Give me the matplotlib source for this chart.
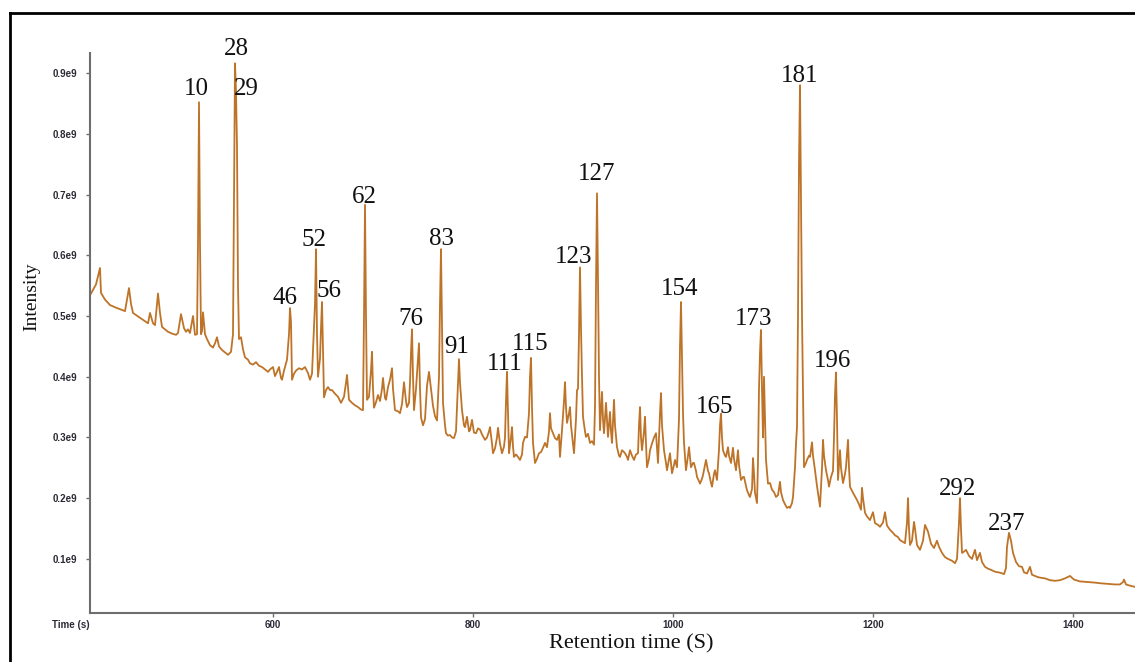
"""
色谱图 - 保留时间与强度
"""

import matplotlib
matplotlib.use("Agg")
import matplotlib.pyplot as plt
from matplotlib.lines import Line2D

# 保留时间 (s)
retention_time = [
    417, 423, 427, 428, 432, 437, 444, 449, 452, 456, 458, 460, 467, 473, 475, 477, 480, 482,
    485, 487, 489, 492, 495, 499, 503, 505, 508, 511, 513, 515, 517, 520, 522, 524, 525, 526,
    527, 528, 529, 530, 532, 534, 537, 540, 542, 544, 546, 549, 552, 555, 558, 560, 561, 562,
    563, 564, 565, 566, 568, 570, 572, 575, 577, 580, 583, 586, 589, 592, 595, 597, 600, 602,
    604, 606, 608, 609, 611, 614, 616, 617, 618, 619, 621, 623,
    626, 629, 632, 635, 637, 639, 640, 642, 643, 644, 645, 647, 648, 649, 650, 651, 653, 655,
    657, 659, 662, 665, 668, 671, 673, 674, 676, 679, 682, 685, 688, 690, 691, 692, 693, 694,
    696, 698, 699, 700, 701, 703, 705, 707, 709, 710, 712, 713, 715, 717, 719, 720, 722, 725,
    727, 729, 731, 733, 734, 736, 737, 738, 739, 740, 741, 743, 745, 746, 747, 748, 750, 752,
    754, 756, 758, 760, 762, 764, 766, 767, 768, 769, 770, 772, 773, 775, 777, 779, 781, 783,
    785, 786, 787, 789, 791, 792, 794, 796, 797, 799, 801, 803, 805, 807, 809, 812, 814, 816,
    817, 819, 820, 822, 824, 825, 827, 829, 831, 832, 833, 834, 835, 836, 838, 839, 840, 841,
    843, 845, 847, 849, 850, 852,
    854, 856, 857, 858, 859, 860, 862, 864, 866, 868, 870, 872, 874, 876, 877, 878, 880, 882,
    884, 886, 887, 889, 891, 892, 893, 894, 896, 897, 898, 900, 901, 903, 904, 905, 906, 907,
    908, 909, 910, 912, 913, 915, 917, 919, 921, 922, 923, 924, 925, 926, 927, 929, 930, 931,
    933, 934, 935, 937, 938, 939, 941, 942, 944, 946, 947, 949, 951, 952, 954, 955, 957, 959,
    961, 963, 965, 966, 967, 968, 969, 971, 972, 973, 974, 976, 977, 979, 981, 983, 985, 987,
    988, 989, 991, 993, 994, 996, 997, 999, 1001, 1002, 1004, 1006, 1007, 1008, 1009, 1010,
    1011, 1013, 1015, 1016, 1018, 1020, 1021, 1023, 1024, 1026, 1027, 1029, 1030, 1032, 1033,
    1035, 1036, 1038, 1039, 1041, 1042, 1044, 1046, 1047, 1048, 1049, 1050, 1052, 1053, 1055,
    1056, 1058, 1060, 1061, 1063, 1065, 1066, 1068, 1070, 1071, 1073, 1074, 1076, 1077, 1079,
    1080, 1081, 1082, 1083, 1084, 1085, 1086, 1087, 1088, 1089, 1090, 1091, 1092, 1093,
    1095, 1097, 1099, 1101, 1103, 1105, 1107, 1108, 1110, 1112, 1114, 1116, 1117, 1119, 1120,
    1122, 1123, 1124, 1125, 1126, 1127, 1128, 1129, 1130, 1131, 1133, 1134, 1136, 1137, 1139,
    1140, 1142, 1144, 1145, 1147, 1149, 1150, 1151, 1153, 1155, 1156, 1158, 1160, 1161, 1162,
    1163, 1164, 1165, 1167, 1168, 1170, 1172, 1173, 1175, 1176, 1177, 1179, 1180, 1182, 1184,
    1186, 1188, 1189, 1190, 1192, 1194, 1197, 1200, 1202, 1205, 1207, 1210, 1212, 1214, 1217,
    1220, 1222, 1225, 1227, 1230, 1232, 1234, 1235, 1236, 1237, 1239, 1241, 1242, 1244, 1247,
    1250, 1252, 1255, 1258, 1261, 1264, 1266, 1269, 1272, 1275, 1279, 1282, 1284, 1286, 1287,
    1288, 1289, 1291, 1293, 1296, 1299, 1302, 1304, 1307, 1309, 1312, 1315, 1318, 1322, 1325,
    1328, 1331, 1333, 1334, 1336, 1338, 1340, 1343, 1346, 1349, 1351, 1354, 1357, 1359, 1362,
    1365, 1368, 1372, 1377, 1382, 1387, 1392, 1397, 1401, 1407, 1415, 1422, 1427, 1435, 1442,
    1447, 1450, 1451, 1453, 1457, 1462,
]

# 强度 (单位 1e9)
intensity = [
    0.534, 0.552, 0.579, 0.538, 0.527, 0.518, 0.513, 0.510, 0.508, 0.546, 0.520, 0.505, 0.497,
    0.490, 0.488, 0.505, 0.488, 0.485, 0.537, 0.505, 0.482, 0.478, 0.474, 0.471, 0.469, 0.472,
    0.503, 0.480, 0.474, 0.478, 0.472, 0.500, 0.469, 0.470, 0.620, 0.852, 0.620, 0.470, 0.475,
    0.506, 0.470, 0.462, 0.452, 0.448, 0.455, 0.465, 0.450, 0.444, 0.440, 0.436, 0.441, 0.470,
    0.700, 0.916, 0.870, 0.780, 0.550, 0.462, 0.465, 0.445, 0.432, 0.428, 0.422, 0.420, 0.424,
    0.418, 0.416, 0.412, 0.408, 0.412, 0.416, 0.401, 0.408, 0.416, 0.398, 0.395, 0.410, 0.428,
    0.470, 0.513, 0.490, 0.395, 0.405, 0.410,
    0.414, 0.412, 0.416, 0.406, 0.395, 0.405, 0.444, 0.520, 0.610, 0.470, 0.400, 0.430, 0.480,
    0.523, 0.440, 0.366, 0.378, 0.383, 0.378, 0.378, 0.372, 0.367, 0.357, 0.367, 0.390, 0.403,
    0.362, 0.357, 0.353, 0.350, 0.346, 0.345, 0.500, 0.683, 0.500, 0.362, 0.367, 0.410, 0.441,
    0.380, 0.349, 0.358, 0.370, 0.360, 0.380, 0.398, 0.365, 0.362, 0.383, 0.395, 0.414, 0.380,
    0.345, 0.343, 0.340, 0.355, 0.391, 0.360, 0.350, 0.357, 0.390, 0.440, 0.478, 0.400, 0.345,
    0.380, 0.430, 0.455, 0.380, 0.333, 0.320, 0.330, 0.385, 0.408, 0.380, 0.352, 0.335, 0.328,
    0.400, 0.520, 0.610, 0.480, 0.357, 0.320, 0.307, 0.303, 0.304, 0.300, 0.299, 0.310, 0.390,
    0.429, 0.390, 0.345, 0.320, 0.317, 0.334, 0.310, 0.312, 0.329, 0.308, 0.307, 0.315, 0.313,
    0.305, 0.296, 0.300, 0.310, 0.317, 0.290, 0.274, 0.282, 0.300, 0.316, 0.290, 0.274, 0.285,
    0.300, 0.360, 0.408, 0.340, 0.274, 0.300, 0.317, 0.285, 0.268, 0.272, 0.268, 0.263, 0.272,
    0.291, 0.301,
    0.300, 0.340, 0.400, 0.431, 0.350, 0.291, 0.258, 0.265, 0.274, 0.276, 0.283, 0.291, 0.284,
    0.310, 0.340, 0.315, 0.307, 0.299, 0.296, 0.305, 0.268, 0.312, 0.360, 0.391, 0.350, 0.324,
    0.340, 0.350, 0.320, 0.290, 0.274, 0.330, 0.378, 0.380, 0.470, 0.580, 0.480, 0.400, 0.334,
    0.310, 0.301, 0.306, 0.291, 0.294, 0.288, 0.350, 0.550, 0.702, 0.560, 0.400, 0.312, 0.375,
    0.330, 0.307, 0.357, 0.330, 0.301, 0.342, 0.310, 0.291, 0.362, 0.320, 0.284, 0.270, 0.268,
    0.279, 0.276, 0.274, 0.268, 0.263, 0.279, 0.270, 0.263, 0.272, 0.274, 0.320, 0.350, 0.300,
    0.279, 0.310, 0.334, 0.290, 0.251, 0.265, 0.279, 0.290, 0.300, 0.307, 0.258, 0.340, 0.373,
    0.320, 0.279, 0.258, 0.246, 0.265, 0.274, 0.241, 0.255, 0.263, 0.251, 0.330, 0.450, 0.523,
    0.430, 0.340, 0.291, 0.246, 0.270, 0.284, 0.251, 0.258, 0.258, 0.245, 0.235, 0.228, 0.224,
    0.232, 0.238, 0.255, 0.263, 0.245, 0.241, 0.225, 0.219, 0.240, 0.246, 0.230, 0.280, 0.320,
    0.339, 0.300, 0.279, 0.270, 0.268, 0.284, 0.270, 0.258, 0.283, 0.265, 0.246, 0.279, 0.255,
    0.230, 0.235, 0.235, 0.220, 0.213, 0.205, 0.202, 0.215, 0.266, 0.240, 0.209, 0.200, 0.192,
    0.260, 0.380, 0.440, 0.477, 0.380, 0.300, 0.400, 0.330, 0.263,
    0.224, 0.225, 0.214, 0.210, 0.202, 0.205, 0.227, 0.210, 0.197, 0.190, 0.184, 0.186, 0.184,
    0.192, 0.202, 0.251, 0.290, 0.317, 0.500, 0.750, 0.880, 0.700, 0.500, 0.373, 0.251, 0.258,
    0.263, 0.270, 0.268, 0.292, 0.270, 0.246, 0.220, 0.209, 0.186, 0.250, 0.296, 0.270, 0.246,
    0.230, 0.219, 0.235, 0.245, 0.300, 0.370, 0.407, 0.330, 0.230, 0.279, 0.250, 0.225, 0.240,
    0.251, 0.296, 0.250, 0.219, 0.212, 0.209, 0.203, 0.197, 0.190, 0.181, 0.217, 0.200, 0.176,
    0.170, 0.164, 0.177, 0.159, 0.156, 0.153, 0.160, 0.177, 0.155, 0.148, 0.143, 0.139, 0.136,
    0.131, 0.128, 0.126, 0.160, 0.200, 0.150, 0.123, 0.130, 0.161, 0.150, 0.123, 0.115, 0.130,
    0.156, 0.145, 0.125, 0.118, 0.130, 0.120, 0.110, 0.103, 0.100, 0.097, 0.093, 0.100, 0.160,
    0.200, 0.150, 0.110, 0.112, 0.115, 0.105, 0.100, 0.115, 0.098, 0.110, 0.095, 0.087, 0.084,
    0.082, 0.079, 0.078, 0.077, 0.075, 0.085, 0.120, 0.143, 0.130, 0.110, 0.095, 0.088, 0.087,
    0.078, 0.076, 0.087, 0.074, 0.072, 0.070, 0.069, 0.068, 0.065, 0.064, 0.065, 0.068, 0.072,
    0.066, 0.063, 0.062, 0.061, 0.060, 0.059, 0.058, 0.058, 0.062, 0.066, 0.058, 0.056, 0.054,
]

# 峰编号及标注位置
peak_labels = ["10", "28", "29", "46", "52", "56", "62", "76", "83", "91", "111",
               "115", "123", "127", "154", "165", "173", "181", "196", "292", "237"]
label_x = [523, 563, 573, 612, 641, 656, 691, 738, 768, 784, 832,
           857, 901, 924, 1007, 1042, 1081, 1127, 1160, 1285, 1334]
label_y = [0.864, 0.930, 0.864, 0.520, 0.615, 0.531, 0.686, 0.485, 0.617, 0.439, 0.411,
           0.444, 0.587, 0.724, 0.535, 0.340, 0.485, 0.885, 0.416, 0.205, 0.148]

y_ticks = [0.1, 0.2, 0.3, 0.4, 0.5, 0.6, 0.7, 0.8, 0.9]
y_tick_labels = ["0.1e9", "0.2e9", "0.3e9", "0.4e9", "0.5e9", "0.6e9", "0.7e9", "0.8e9", "0.9e9"]
x_ticks = [600, 800, 1000, 1200, 1400]

W, H = 1135, 662

# 创建图表
fig = plt.figure(figsize=(W / 100, H / 100), dpi=100)
ax = fig.add_axes([90 / W, 49 / H, 1045 / W, 560 / H])

ax.plot(retention_time, intensity, color="#BE7428", linewidth=1.3)

ax.set_xlim(417, 1462)
ax.set_ylim(0.011, 0.933)

# 坐标轴样式
for side in ["top", "right"]:
    ax.spines[side].set_visible(False)
for side in ["left", "bottom"]:
    ax.spines[side].set_color("#6e6e6e")
    ax.spines[side].set_linewidth(1.5)

ax.set_yticks(y_ticks)
ax.set_yticklabels(y_tick_labels)
ax.set_xticks(x_ticks)
ax.tick_params(axis="both", direction="out", length=3, width=1, color="#6e6e6e",
               labelsize=7, labelcolor="#2a2a35")
ax.tick_params(axis="y", pad=6)
ax.tick_params(axis="x", pad=2)
for lab in ax.get_xticklabels() + ax.get_yticklabels():
    lab.set_fontfamily("Liberation Sans")
    lab.set_fontweight("bold")

# 峰标注
for txt, x, y in zip(peak_labels, label_x, label_y):
    ax.text(x, y, txt, fontsize=18, family="Liberation Serif", color="#111111",
            ha="center", va="baseline", clip_on=False)

# 轴标题
fig.text(90 / W, 1 - 625 / H, "Time (s)", fontsize=7, family="Liberation Sans",
         fontweight="bold", color="#2a2a35", ha="right", va="center")
fig.text(631 / W, 1 - 644 / H, "Retention time (S)", fontsize=16,
         family="Liberation Serif", color="#111111", ha="center", va="center")
fig.text(32 / W, 1 - 297 / H, "Intensity", fontsize=14, family="Liberation Serif",
         color="#111111", ha="center", va="center", rotation=90)

# 外边框
fig.add_artist(Line2D([10 / W, 10 / W], [0, 1 - 13 / H], transform=fig.transFigure,
                      color="black", linewidth=2))
fig.add_artist(Line2D([10 / W, 1], [1 - 13 / H, 1 - 13 / H], transform=fig.transFigure,
                      color="black", linewidth=2))

fig.savefig("out.png", dpi=100)
